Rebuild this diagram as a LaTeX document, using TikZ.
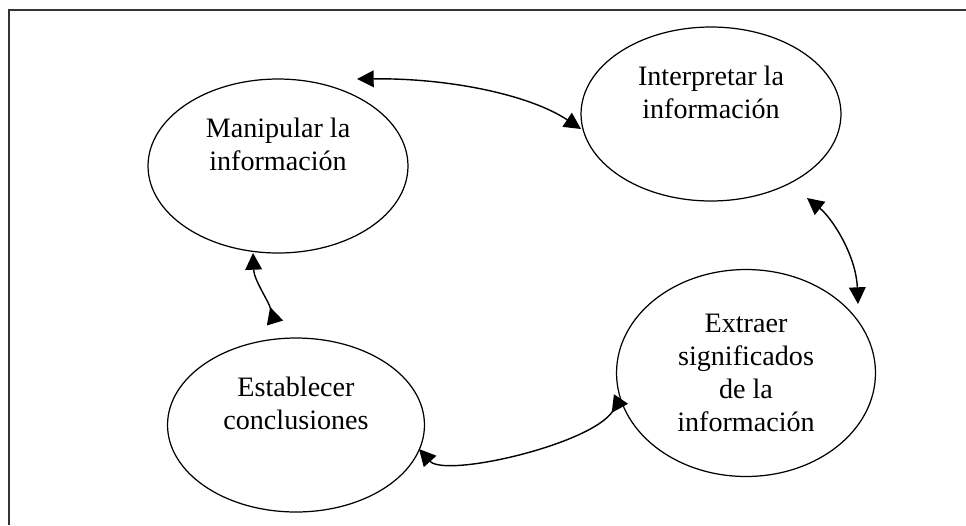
\documentclass[tikz,border=0pt]{standalone}
\usepackage{fontspec}
\setmainfont{Liberation Serif}
\usetikzlibrary{arrows.meta,shapes.geometric,positioning}

\begin{document}
\begin{tikzpicture}[x=0.02cm, y=-0.02cm,
    punta/.tip={Triangle[length=9.5pt,width=9.5pt]},
    bubble/.style={draw, ellipse, line width=0.7pt, inner sep=0pt, align=center,
        font=\fontsize{16}{18.7}\selectfont},
    link/.style={line width=0.8pt}]
    \useasboundingbox (0,0) rectangle (966,525);

    % marco
    \draw[line width=1.1pt, black!80] (9,525) -- (9,10) -- (966,10);

    \node[bubble, minimum width=5.2cm, minimum height=3.48cm] (manip) at (278,166) {Manipular la\\información\\\strut};
    \node[bubble, minimum width=5.2cm, minimum height=3.48cm] (interp) at (711,114) {Interpretar la\\información\\\strut};
    \node[bubble, minimum width=5.18cm, minimum height=4.14cm] (extr) at (746,373) {Extraer\\significados\\de la\\información};
    \node[bubble, minimum width=5.14cm, minimum height=3.48cm] (estab) at (296,425) {Establecer\\conclusiones\\\strut};

    % extremos de las flechas
    \coordinate (m-i) at (357,79);
    \coordinate (i-m) at (581,129);
    \coordinate (i-e) at (807,198);
    \coordinate (e-i) at (858,304);
    \coordinate (m-s) at (253,253);
    \coordinate (s-m) at (275,323);
    \coordinate (s-e) at (419,449);
    \coordinate (e-s) at (621,399);

    \draw[link, {punta}-{punta}] (m-i) .. controls (450,78) and (530,95) .. (i-m);
    \draw[link, {punta}-{punta}] (i-e) .. controls (832,218) and (856,255) .. (e-i);
    \draw[link, {punta}-{punta[reversed]}] (m-s) .. controls (254,280) and (268,300) .. (s-m);
    \draw[link, {punta}-{punta[reversed]}] (s-e) .. controls (445,478) and (590,445) .. (e-s);
\end{tikzpicture}
\end{document}
